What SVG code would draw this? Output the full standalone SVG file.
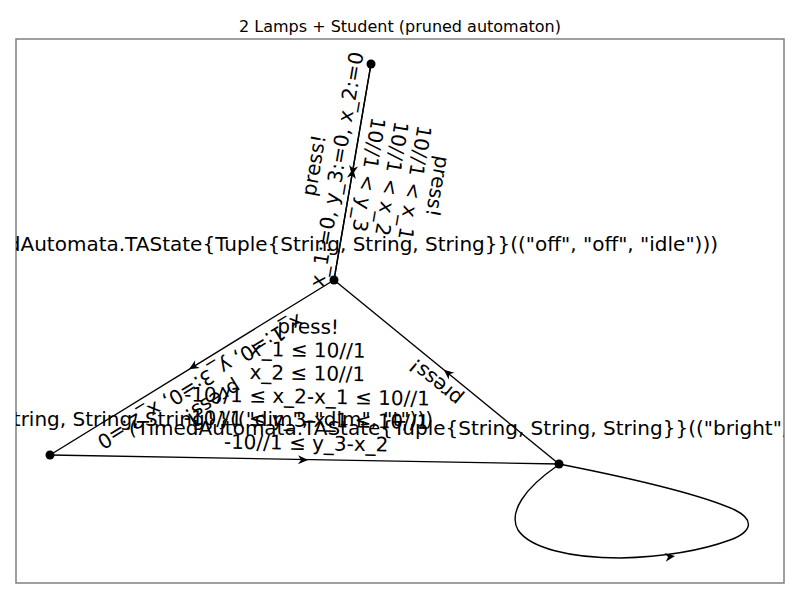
<svg xmlns="http://www.w3.org/2000/svg" xmlns:xlink="http://www.w3.org/1999/xlink" width="800" height="600" viewBox="0 0 800 600">
<style>
text{font-family:"DejaVu Sans","Liberation Sans",sans-serif;fill:#000}
.title{font-size:16px}
.lbl{font-size:20px}
.edge{fill:none;stroke:#000;stroke-width:1.4}
.node{fill:#000}
</style>
<defs>
<clipPath id="axclip"><rect x="16" y="39" width="768" height="544"/></clipPath>
<path id="ah" d="M0,0 L-10,-4.5 L-7,0 L-10,4.5 Z" fill="#000"/>
</defs>
<rect width="800" height="600" fill="#fff"/>
<text class="title" x="400" y="31.5" text-anchor="middle">2 Lamps + Student (pruned automaton)</text>
<rect x="16" y="39" width="768" height="544" fill="none" stroke="#808080" stroke-width="1.5"/>
<g id="connectors">
  <line class="edge" x1="371" y1="64" x2="334" y2="280"/>
  <line class="edge" x1="334" y1="280" x2="371" y2="64"/>
  <line class="edge" x1="334" y1="280" x2="50" y2="455"/>
  <line class="edge" x1="50" y1="455" x2="559" y2="464"/>
  <line class="edge" x1="559" y1="464" x2="334" y2="280"/>
  <path class="edge" d="M559,464 C620,476 700,494 735,510 C755,520 752,532 730,540 C700,551 660,557 620,558 C570,558 530,548 518,530 C508,512 525,488 557,466"/>
  <use xlink:href="#ah" transform="translate(351.9,175.5) rotate(99.7)"/>
  <use xlink:href="#ah" transform="translate(353.1,168.5) rotate(-80.3)"/>
  <use xlink:href="#ah" transform="translate(189,369.3) rotate(148.4)"/>
  <use xlink:href="#ah" transform="translate(308,460) rotate(1)"/>
  <use xlink:href="#ah" transform="translate(443.8,369.8) rotate(-140.7)"/>
  <use xlink:href="#ah" transform="translate(675,556) rotate(-8)"/>
  <text class="lbl" text-anchor="middle" transform="translate(343.5,170.5) rotate(-80.3)"><tspan x="0" y="-23.3">press!</tspan><tspan x="0" y="0">x_1:=0, y_3:=0, x_2:=0</tspan></text>
  <text class="lbl" text-anchor="middle" transform="translate(362,173.6) rotate(99.7)"><tspan x="0" y="-69.9">press!</tspan><tspan x="0" y="-46.6">10//1 &lt; x_1</tspan><tspan x="0" y="-23.3">10//1 &lt; x_2</tspan><tspan x="0" y="0">10//1 &lt; y_3</tspan></text>
  <text class="lbl" text-anchor="middle" transform="translate(197,375.6) rotate(148.4)"><tspan x="0" y="-23.3">press!</tspan><tspan x="0" y="0">x_1:=0, y_3:=0, x_2:=0</tspan></text>
  <text class="lbl" text-anchor="middle" transform="translate(306,450) rotate(1)"><tspan x="0" y="-116.5">press!</tspan><tspan x="0" y="-93.2">x_1 ≤ 10//1</tspan><tspan x="0" y="-69.9">x_2 ≤ 10//1</tspan><tspan x="0" y="-46.6">-10//1 ≤ x_2-x_1 ≤ 10//1</tspan><tspan x="0" y="-23.3">-10//1 ≤ y_3-x_1 ≤ 10//1</tspan><tspan x="0" y="0">-10//1 ≤ y_3-x_2</tspan></text>
  <text class="lbl" text-anchor="middle" transform="translate(440,377) rotate(-140.7)">press!</text>
</g>
<g id="node-A">
  <circle class="node" cx="371" cy="64" r="4.5"/>
</g>
<g id="node-B">
  <circle class="node" cx="334" cy="280" r="4.5"/>
  <text class="lbl" clip-path="url(#axclip)" x="718" y="251" text-anchor="end">(TimedAutomata.TAState{Tuple{String, String, String}}(("off", "off", "idle")))</text>
</g>
<g id="node-C">
  <circle class="node" cx="50" cy="455" r="4.5"/>
  <text class="lbl" clip-path="url(#axclip)" x="433" y="426" text-anchor="end">(TimedAutomata.TAState{Tuple{String, String, String}}(("dim", "dim", "t")))</text>
</g>
<g id="node-D">
  <circle class="node" cx="559" cy="464" r="4.5"/>
  <text class="lbl" clip-path="url(#axclip)" x="129" y="435">(TimedAutomata.TAState{Tuple{String, String, String}}(("bright", "bright", "study")))</text>
</g>
</svg>
